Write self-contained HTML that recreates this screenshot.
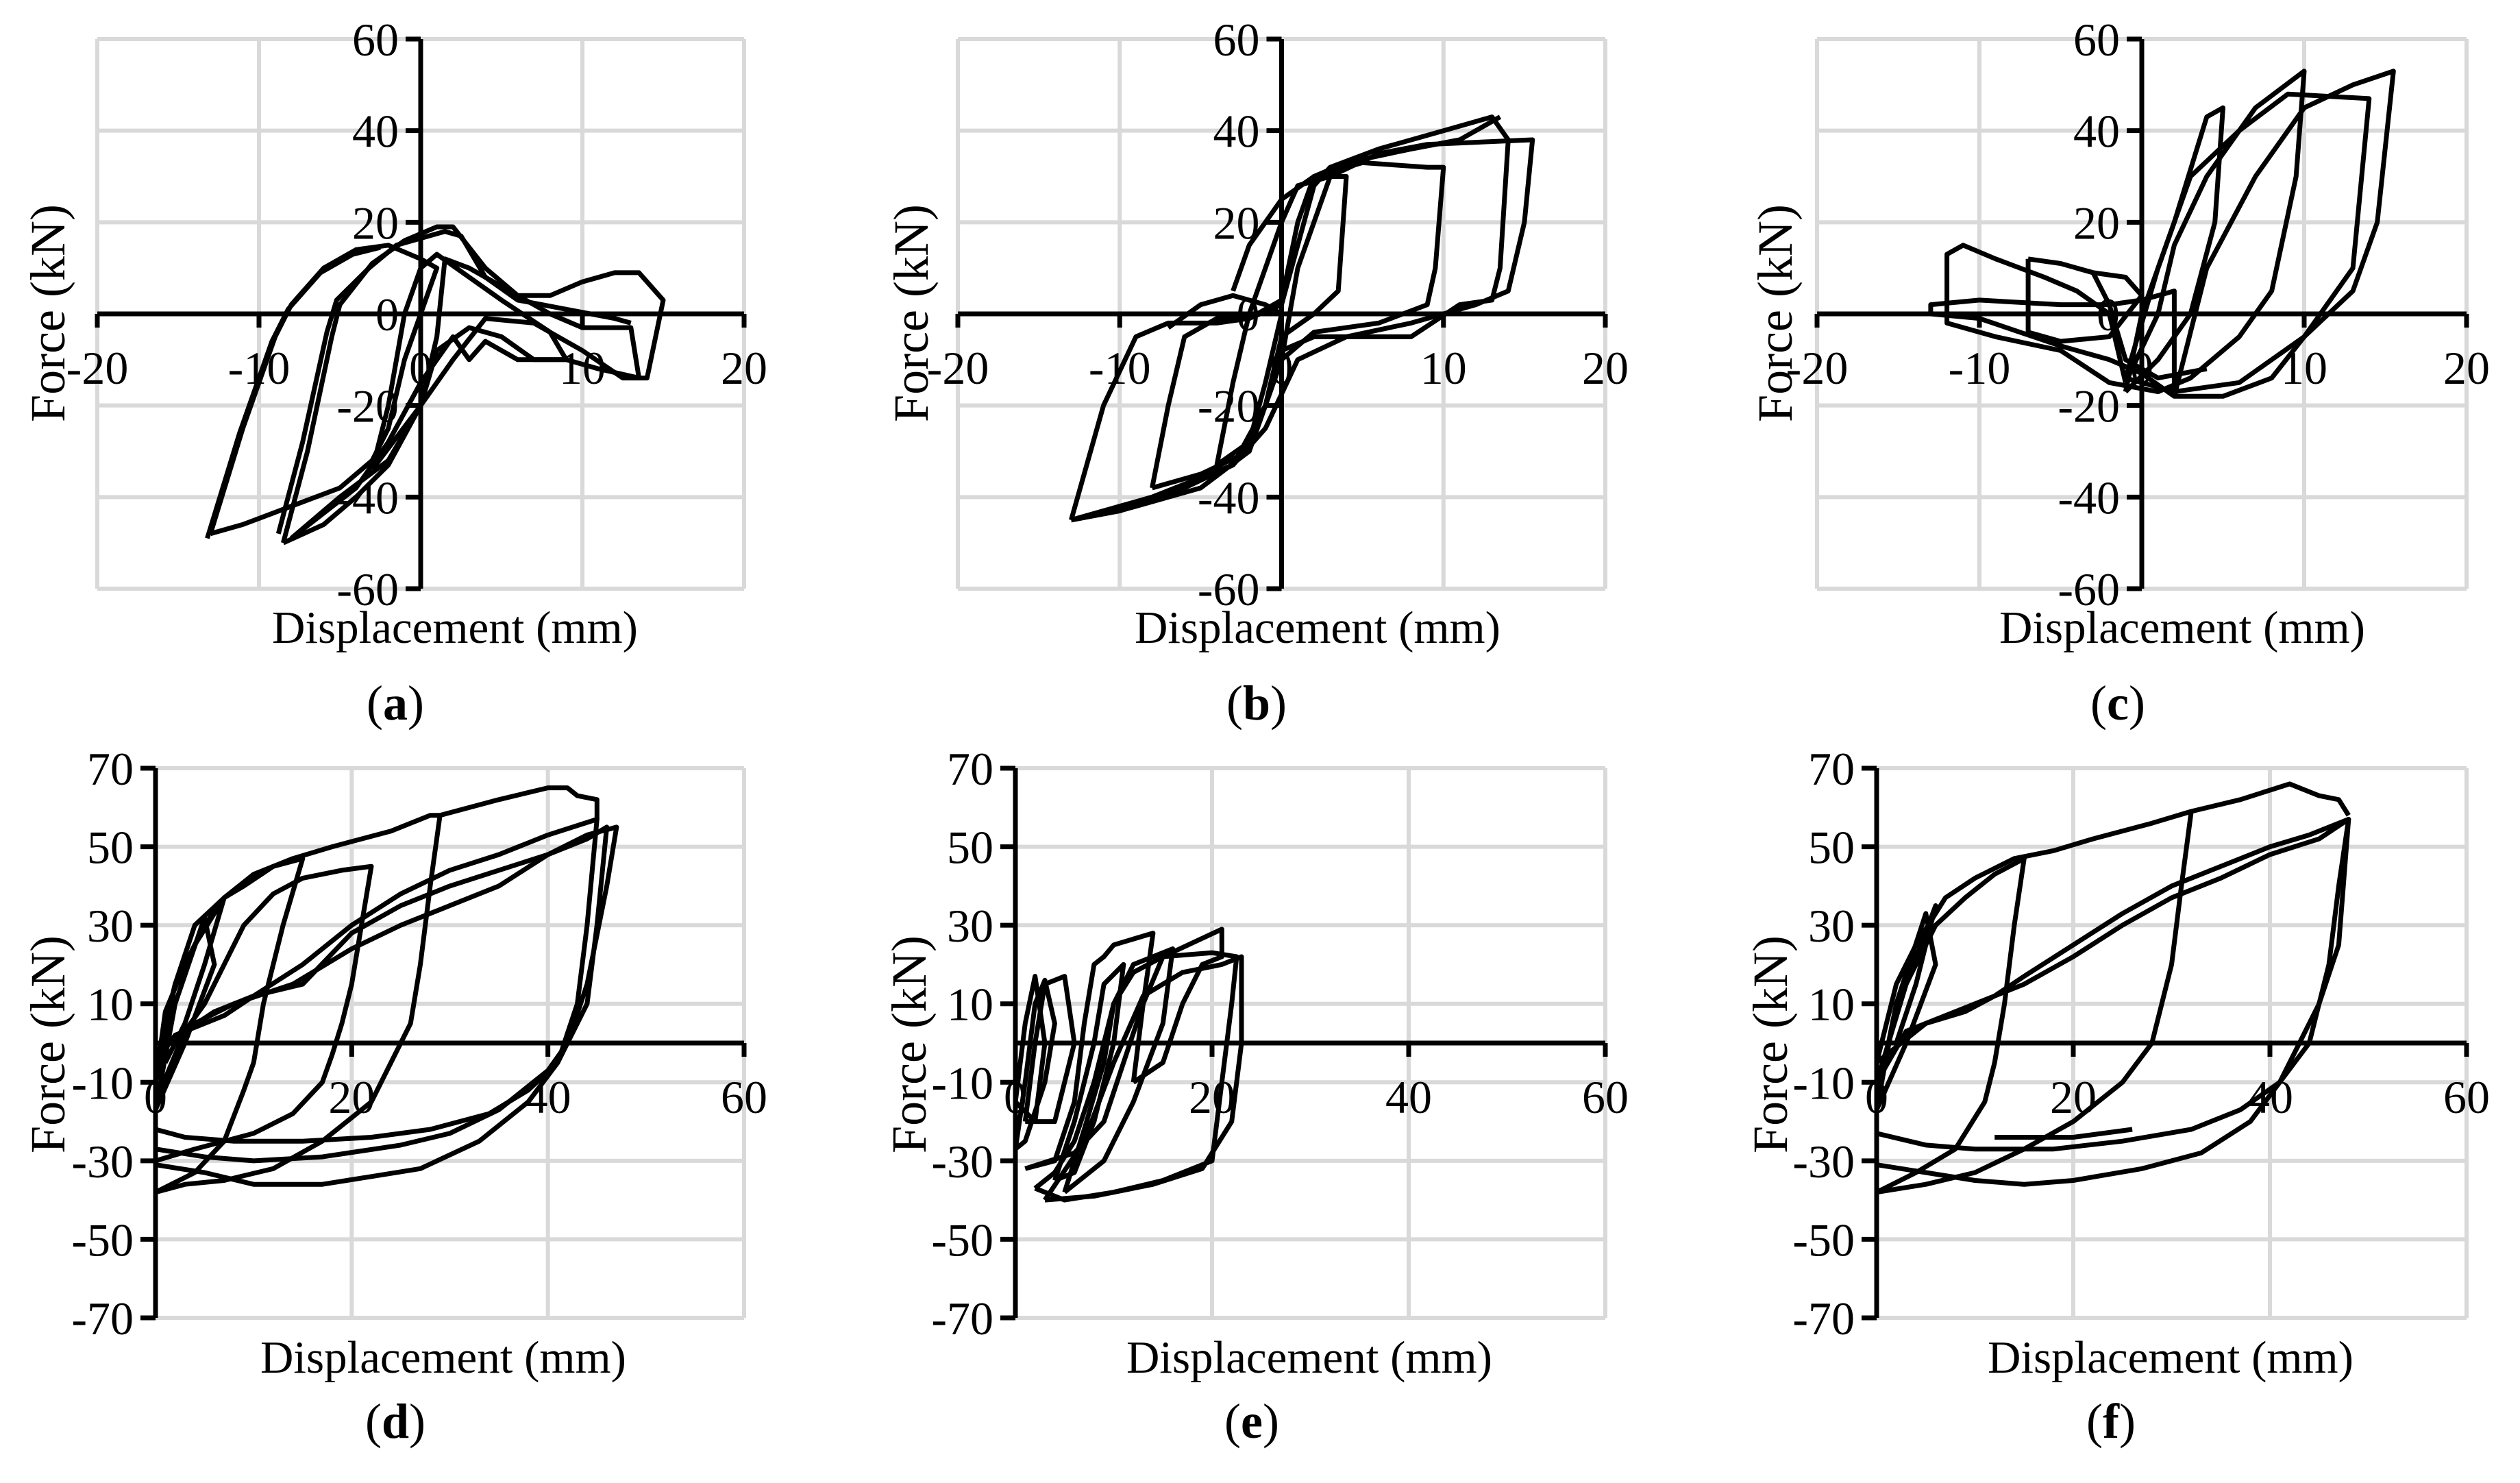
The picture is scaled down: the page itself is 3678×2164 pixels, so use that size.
<!DOCTYPE html>
<html><head><meta charset="utf-8"><style>
html,body{margin:0;padding:0;background:#fff}
svg{display:block}
text{font-family:"Liberation Serif",serif;fill:#000}
</style></head><body>
<svg id="fig" width="3678" height="2164" viewBox="0 0 3678 2164" xmlns="http://www.w3.org/2000/svg"></svg>
<script>
// ---- data (displacement mm, force kN) ----
const xTicksTop = [-20,-10,0,10,20];
const yTicksTop = [-60,-40,-20,0,20,40,60];
const xTicksBot = [0,20,40,60];
const yTicksBot = [-70,-50,-30,-10,10,30,50,70];
const panelLabels = ['a','b','c','d','e','f'];

const loopsA = [
 [[-13,-48],[-11,-25],[-9,-5],[-8,2],[-6,10],[-4,14],[-2,15],[0,12],[1,10],[0.5,5],[-1,-10],[-2,-25],[-3,-32],[-5,-38],[-8,-42],[-11,-46],[-13,-48]],
 [[-13.2,-49],[-11.2,-26],[-9.2,-6],[-8.2,1],[-6.2,9],[-4.2,13],[-2.5,14.5]],
 [[-8.5,-50],[-7,-30],[-5.5,-5],[-5,2],[-3,11],[-1,16],[1,19],[2,19],[4,10],[6,4],[8,4],[10,7],[12,9],[13.5,9],[15,3],[14,-14],[12.5,-14],[10,-8],[7,-2],[4,-1],[2,-10],[0,-20],[-2,-33],[-4,-40],[-6,-46],[-8.5,-50]],
 [[-8,-49],[-5,-40],[-2,-32],[0,-20],[1,-5],[1.5,12],[3,10],[5,6],[8,0],[10,-3],[13,-3],[13.5,-14],[11,-12],[9,-10],[6,-10],[4,-6],[3,-10],[2,-5],[0,-15],[-2,-28],[-4,-38],[-8,-49]],
 [[-3,-34],[-2,-20],[-1,0],[0,10],[1,13],[3,8],[5,3],[8,-4],[9,-10],[7,-10],[5,-5],[3,-3],[1,-8],[0,-20],[-3,-34]],
 [[-8.8,-48],[-7.3,-28],[-5.8,-4],[-5.2,3],[-3.2,10],[-1.5,15],[1.5,18],[2.5,17],[4,8],[6,3],[9,1],[12,-1],[13,-2]]
];
const loopsB = [
 [[-13,-45],[-11,-20],[-9,-5],[-7,-2],[-4,-2],[-2,-1],[0,2],[1,15],[2,28],[3,32],[6,36],[10,40],[13,43],[14,38],[13.5,10],[13,3],[11,2],[8,-5],[5,-5],[2,-5],[0,-8],[-1,-20],[-3,-33],[-6,-38],[-10,-43],[-13,-45]],
 [[-13,-45],[-10,-43],[-5,-38],[-2,-30],[0,-10],[1,10],[3,30],[6,35],[9,37],[15.5,38],[15,20],[14,5],[12,2],[8,-2],[4,-5],[1,-10],[-1,-25],[-3,-33],[-8,-40],[-13,-45]],
 [[-8,-38],[-7,-20],[-6,-5],[-4,-1],[-2,-1],[0,3],[1,20],[2,30],[5,33],[9,32],[10,32],[9.5,10],[9,2],[6,-2],[2,-4],[0,-10],[-2,-30],[-5,-35],[-8,-38]],
 [[-4,-33],[-3,-15],[-2,0],[-1,10],[0,20],[1,28],[3,30],[4,30],[3.5,5],[2,0],[0,-5],[-1,-20],[-2,-28],[-4,-33]],
 [[-7,-3],[-5,2],[-3,4],[-1,2],[0,0],[-1,-15],[-2,-28]],
 [[-3,5],[-2,15],[0,25],[2,30],[4,33],[8,36],[11,38],[13.5,43]]
];
const loopsC = [
 [[-1,-15],[1,0],[2,15],[4,30],[7,45],[10,53],[9.5,30],[8,5],[6,-5],[3,-14],[1,-17],[-2,-15],[-5,-8],[-9,-5],[-12,-2],[-12,13],[-11,15],[-9,12],[-6,8],[-4,5],[-2,0],[-1,-15]],
 [[2,-18],[4,10],[7,30],[10,45],[13,50],[15.5,53],[14.5,20],[13,5],[10,-5],[8,-14],[5,-18],[2,-18],[0,-13],[-2,-10],[-5,-7],[-10,-1],[-13,0],[-13,2],[-10,3],[-5,2],[-2,2],[0,3],[2,5],[2,-18]],
 [[-1,-17],[0,0],[2,20],[4,43],[5,45],[4.5,20],[3,0],[1,-10],[-1,-17]],
 [[-1,-14],[1,10],[3,30],[6,40],[9,48],[14,47],[13,10],[10,-5],[6,-15],[2,-17],[-1,-14]],
 [[-7,12],[-5,11],[-3,9],[-1,8],[0,4],[-2,-5],[-5,-6],[-7,-4],[-7,12]],
 [[-4,10],[-3,9],[-2,2],[-1,-10],[1,-14],[4,-12]]
];
const loopsD = [
 [[0,-38],[3,-36],[7,-35],[12,-32],[17,-25],[22,-15],[24,-5],[25,0],[26,5],[27,20],[28,40],[29,58],[28,58],[24,54],[18,50],[14,47],[10,43],[7,37],[4,25],[2,15],[1,5],[0,-10]],
 [[0,-31],[5,-33],[10,-36],[17,-36],[22,-34],[27,-32],[33,-25],[38,-15],[41,-5],[43,10],[44,30],[45,57],[40,53],[35,48],[30,44],[25,38],[20,30],[15,20],[10,12],[6,8],[3,3],[1,0],[0,-10]],
 [[0,-22],[3,-24],[8,-25],[15,-25],[22,-24],[28,-22],[34,-18],[38,-12],[41,-5],[44,10],[45,30],[46,55],[44,52],[40,48],[35,44],[30,40],[25,35],[20,28],[15,15],[10,12],[7,7],[4,4],[2,2],[0,-5]],
 [[0,-30],[4,-27],[10,-23],[14,-18],[17,-10],[18,-3],[19,5],[20,15],[21,30],[22,45],[19,44],[15,42],[12,38],[9,30],[7,20],[5,10],[3,3],[0,-15]],
 [[29,58],[35,62],[40,65],[42,65],[43,63],[45,62],[45,57]],
 [[0,-27],[5,-29],[10,-30],[17,-29],[25,-26],[30,-23],[35,-17],[40,-7],[42,0],[44,15],[46,40],[47,55],[44,53],[40,48],[35,40],[30,35],[25,30],[20,24],[14,15],[8,10],[4,5],[0,-3]],
 [[0,-38],[4,-33],[7,-25],[9,-12],[10,-5],[11,10],[13,30],[15,47],[12,45],[9,40],[7,37],[5,30],[3,20],[1,8],[0,-10]],
 [[0,-17],[2,10],[5,32],[6,20],[3,0],[0,-17]],
 [[0,-10],[2,15],[4,30],[7,37],[5,20],[3,5],[1,-5]]
];
const loopsE = [
 [[2,-37],[5,-40],[10,-38],[15,-35],[20,-30],[21,-10],[22,10],[22.5,22],[20,23],[15,22],[12,18],[10,10],[8,-10],[6,-25],[4,-33],[2,-37]],
 [[3,-40],[8,-39],[14,-36],[19,-32],[22,-20],[23,0],[23,22],[21,20],[17,18],[13,12],[10,-5],[7,-25],[3,-40]],
 [[1,-32],[4,-30],[6,-15],[7,5],[8,20],[9,22],[10,25],[14,28],[13,10],[11,-5],[9,-20],[6,-28],[1,-32]],
 [[0,-27],[1,-10],[2,10],[3,16],[4,5],[3,-10],[1,-25],[0,-27]],
 [[1,-20],[2,0],[3,15],[5,17],[6,0],[4,-20],[1,-20]],
 [[12,-10],[13,10],[15,22],[21,29],[21,22],[19,20],[17,10],[15,-5],[12,-10]],
 [[4,-35],[6,-20],[8,0],[9,15],[11,20],[10,0],[8,-20],[6,-33],[4,-35]],
 [[0,-15],[1,5],[2,17],[3,0],[2,-20],[0,-15]],
 [[5,-38],[7,-22],[9,-5],[10,10],[12,20],[16,24],[15,5],[12,-15],[9,-30],[5,-38]]
];
const loopsF = [
 [[0,-38],[5,-36],[10,-33],[15,-27],[20,-20],[25,-10],[28,0],[30,20],[31,40],[32,59],[28,56],[22,52],[18,49],[14,47],[10,42],[7,37],[4,25],[2,15],[0,-5]],
 [[0,-31],[5,-33],[10,-35],[15,-36],[20,-35],[27,-32],[33,-28],[38,-20],[41,-10],[43,0],[45,10],[47,25],[48,57],[45,52],[40,48],[35,42],[30,37],[25,30],[20,22],[15,15],[10,10],[6,6],[3,3],[0,-10]],
 [[0,-23],[5,-26],[10,-27],[18,-27],[25,-25],[32,-22],[37,-17],[41,-10],[44,0],[46,20],[47,40],[48,57],[44,53],[40,50],[35,45],[30,40],[25,33],[20,25],[15,17],[12,12],[9,8],[5,5],[0,-5]],
 [[32,59],[37,62],[42,66],[45,63],[47,62],[48,58]],
 [[0,-38],[4,-33],[8,-27],[11,-15],[12,-5],[13,10],[14,30],[15,47],[12,43],[9,37],[6,30],[4,20],[2,10],[0,-15]],
 [[12,-24],[20,-24],[26,-22]],
 [[0,-17],[2,10],[5,33],[6,20],[3,0],[0,-17]],
 [[0,-10],[3,15],[6,35],[4,15],[2,0]]
];

const NS = 'http://www.w3.org/2000/svg';
const svg = document.getElementById('fig');
function mk(tag, attrs, parent){
  const e = document.createElementNS(NS, tag);
  for (const k in attrs) e.setAttribute(k, attrs[k]);
  (parent||svg).appendChild(e);
  return e;
}

const panels = [
 {id:'a', L:142, R:1086, T:57, B:859, x0:-20, x1:20, y0:-60, y1:60, xt:xTicksTop, yt:yTicksTop, loops:loopsA, titleX:664, titleY:938, yLabX:70, yLabY:457, labX:577, labY:1050},
 {id:'b', L:1398, R:2343, T:57, B:859, x0:-20, x1:20, y0:-60, y1:60, xt:xTicksTop, yt:yTicksTop, loops:loopsB, titleX:1923, titleY:938, yLabX:1330, yLabY:457, labX:1834, labY:1050},
 {id:'c', L:2652, R:3600, T:57, B:859, x0:-20, x1:20, y0:-60, y1:60, xt:xTicksTop, yt:yTicksTop, loops:loopsC, titleX:3185, titleY:938, yLabX:2591, yLabY:457, labX:3091, labY:1050},
 {id:'d', L:227, R:1086, T:1121, B:1923, x0:0, x1:60, y0:-70, y1:70, xt:xTicksBot, yt:yTicksBot, loops:loopsD, titleX:647, titleY:2003, yLabX:70, yLabY:1524, labX:577, labY:2098},
 {id:'e', L:1482, R:2343, T:1121, B:1923, x0:0, x1:60, y0:-70, y1:70, xt:xTicksBot, yt:yTicksBot, loops:loopsE, titleX:1911, titleY:2003, yLabX:1327, yLabY:1524, labX:1827, labY:2098},
 {id:'f', L:2739, R:3600, T:1121, B:1923, x0:0, x1:60, y0:-70, y1:70, xt:xTicksBot, yt:yTicksBot, loops:loopsF, titleX:3168, titleY:2003, yLabX:2584, yLabY:1524, labX:3081, labY:2098}
];

panels.forEach((p, pi) => {
  const g = mk('g', {});
  
  
  const sx = v => p.L + (v - p.x0) / (p.x1 - p.x0) * (p.R - p.L);
  const sy = v => p.B - (v - p.y0) / (p.y1 - p.y0) * (p.B - p.T);
  p.xt.forEach(v => {
    const l = mk('line', {x1:sx(v), x2:sx(v), y1:p.T, y2:p.B, stroke:'#d9d9d9', 'stroke-width':6}, g);
    
    
  });
  p.yt.forEach(v => {
    const l = mk('line', {x1:p.L, x2:p.R, y1:sy(v), y2:sy(v), stroke:'#d9d9d9', 'stroke-width':6}, g);
    
    
  });
  const ax = sx(0), ay = sy(0);
  p.loops.forEach((loop, li) => {
    const pts = loop.map(d => sx(d[0]).toFixed(1) + ',' + sy(d[1]).toFixed(1)).join(' ');
    const pl = mk('polyline', {points:pts, fill:'none', stroke:'#000', 'stroke-width':7, 'stroke-linejoin':'round'}, g);
    
    
  });
  const xa = mk('line', {x1:p.L, x2:p.R, y1:ay, y2:ay, stroke:'#000', 'stroke-width':7}, g);
  
  
  const ya = mk('line', {x1:ax, x2:ax, y1:p.T, y2:p.B, stroke:'#000', 'stroke-width':7}, g);
  
  
  p.xt.forEach(v => {
    const t = mk('line', {x1:sx(v), x2:sx(v), y1:ay, y2:ay+20, stroke:'#000', 'stroke-width':7}, g);
    
    
    const tx = mk('text', {x:sx(v), y:ay+102, 'font-size':68, 'text-anchor':'middle'}, g);
    tx.textContent = String(v);
    
    
  });
  p.yt.forEach(v => {
    const t = mk('line', {x1:ax-22, x2:ax, y1:sy(v), y2:sy(v), stroke:'#000', 'stroke-width':7}, g);
    
    
    const tx = mk('text', {x:ax-32, y:sy(v)+24, 'font-size':68, 'text-anchor':'end'}, g);
    tx.textContent = String(v);
    
    
  });
  const xt = mk('text', {x:p.titleX, y:p.titleY, 'font-size':67, 'text-anchor':'middle'}, g);
  xt.textContent = 'Displacement (mm)';
  
  
  const yt = mk('text', {x:0, y:0, 'font-size':72, 'text-anchor':'middle', transform:'translate(' + (p.yLabX+24) + ',' + p.yLabY + ') rotate(-90)'}, g);
  yt.textContent = 'Force (kN)';
  
  
  const lb = mk('text', {x:p.labX, y:p.labY, 'font-size':72, 'text-anchor':'middle'}, g);
  
  
  const t1 = mk('tspan', {}, lb); t1.textContent = '(';
  const t2 = mk('tspan', {'font-weight':'bold'}, lb); t2.textContent = panelLabels[pi];
  const t3 = mk('tspan', {}, lb); t3.textContent = ')';
});
</script>
</body></html>
